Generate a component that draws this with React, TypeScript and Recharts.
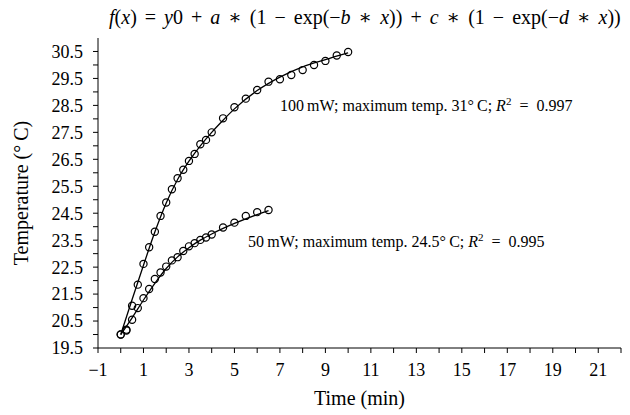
import React from 'react';
import { ComposedChart, Line, XAxis, YAxis, ReferenceDot } from 'recharts';

// Measured points (time in min, temperature in °C)
const TIME_100 = [0, 0.25, 0.5, 0.75, 1, 1.25, 1.5, 1.75, 2, 2.25, 2.5, 2.75, 3, 3.25, 3.5, 3.75, 4, 4.5, 5, 5.5, 6, 6.5, 7, 7.5, 8, 8.5, 9, 9.5, 10];
const TEMP_100 = [20.0, 20.18, 21.07, 21.85, 22.62, 23.24, 23.81, 24.4, 24.9, 25.39, 25.8, 26.11, 26.44, 26.7, 27.06, 27.22, 27.5, 28.02, 28.43, 28.75, 29.07, 29.38, 29.47, 29.63, 29.81, 30.0, 30.15, 30.35, 30.48];

const TIME_50 = [0, 0.25, 0.5, 0.75, 1, 1.25, 1.5, 1.75, 2, 2.25, 2.5, 2.75, 3, 3.25, 3.5, 3.75, 4, 4.5, 5, 5.5, 6, 6.5];
const TEMP_50 = [20.0, 20.15, 20.55, 20.98, 21.35, 21.69, 22.06, 22.3, 22.52, 22.75, 22.87, 23.1, 23.27, 23.39, 23.51, 23.6, 23.71, 23.97, 24.15, 24.4, 24.54, 24.62];

// Fitted curves
const FIT_T_100 = [0, 0.5, 1, 1.5, 2, 2.5, 3, 3.5, 4, 4.5, 5, 6, 7, 8, 9, 10];
const FIT_V_100 = [20.0, 21.3, 22.57, 23.8, 24.88, 25.75, 26.43, 27.0, 27.5, 27.95, 28.37, 29.05, 29.55, 29.93, 30.2, 30.45];
const FIT_T_50 = [0, 0.5, 1, 1.5, 2, 2.5, 3, 3.5, 4, 5, 6, 6.5];
const FIT_V_50 = [20.0, 20.62, 21.28, 21.9, 22.45, 22.88, 23.22, 23.5, 23.73, 24.12, 24.45, 24.6];

const X_TICKS = [-1, 0, 1, 2, 3, 4, 5, 6, 7, 8, 9, 10, 11, 12, 13, 14, 15, 16, 17, 18, 19, 20, 21, 22];
const Y_TICKS = [19.5, 20, 20.5, 21, 21.5, 22, 22.5, 23, 23.5, 24, 24.5, 25, 25.5, 26, 26.5, 27, 27.5, 28, 28.5, 29, 29.5, 30, 30.5];

const zip = (ts: number[], vs: number[]) => ts.map((t, i) => ({ t, v: vs[i] }));
const pts100 = zip(TIME_100, TEMP_100);
const pts50 = zip(TIME_50, TEMP_50);
const fit100 = zip(FIT_T_100, FIT_V_100);
const fit50 = zip(FIT_T_50, FIT_V_50);

const FONT = '"Liberation Serif", "DejaVu Serif", serif';

const xFmt = (v: number) => (Math.abs(v % 2) === 1 ? (v < 0 ? '\u2212' + Math.abs(v) : String(v)) : '');
const yFmt = (v: number) => (Math.abs(v % 1) > 0.01 ? v.toFixed(1) : '');

const makeAnno = (text: string, r2: string) => (props: any) => {
  const vb = props.viewBox || {};
  const x = vb.x ?? 0;
  const y = vb.y ?? 0;
  return (
    <text x={x} y={y} dy="0.35em" fontFamily={FONT} fontSize={16} fill="#000">
      {text}
      <tspan fontStyle="italic">R</tspan>
      <tspan dy={-6} fontSize={11}>2</tspan>
      <tspan dy={6}>{'\u2002=\u20020' + r2.slice(1)}</tspan>
    </text>
  );
};

const dotStyle = { r: 3.6, stroke: '#000', strokeWidth: 1.2, fill: 'none' };

export default function App() {
  return (
    <div style={{ position: 'absolute', left: 0, top: 0, width: 630, height: 415, background: '#fff' }}>
      <div
        style={{
          position: 'absolute',
          left: 109,
          top: 5,
          fontFamily: FONT,
          fontSize: 20,
          lineHeight: '24px',
          wordSpacing: '3px',
          whiteSpace: 'nowrap',
          color: '#000',
        }}
      >
        <i>f</i>(<i>x</i>) = <i>y</i>0 + <i>a</i> ∗ (1 − exp(−<i>b</i> ∗ <i>x</i>)) + <i>c</i> ∗ (1 − exp(−<i>d</i> ∗ <i>x</i>))
      </div>
      <ComposedChart width={630} height={415} margin={{ top: 38, right: 9, bottom: 0, left: 0 }}>
        <XAxis
          dataKey="t"
          type="number"
          domain={[-1, 22]}
          ticks={X_TICKS}
          interval={0}
          tickFormatter={xFmt}
          height={67}
          tickSize={5}
          tickMargin={10}
          stroke="#000"
          tick={{ fill: '#000', fontSize: 18, fontFamily: FONT }}
          allowDataOverflow
          label={{ value: 'Time (min)', position: 'insideBottom', offset: 10, fill: '#000', fontSize: 20, fontFamily: FONT }}
        />
        <XAxis
          xAxisId="top"
          orientation="top"
          type="number"
          domain={[-1, 22]}
          tick={false}
          tickLine={false}
          height={0}
          stroke="#000"
        />
        <YAxis
          type="number"
          domain={[19.5, 31]}
          ticks={Y_TICKS}
          interval={0}
          tickFormatter={yFmt}
          width={98}
          tickSize={5}
          tickMargin={10}
          stroke="#000"
          tick={{ fill: '#000', fontSize: 18, fontFamily: FONT }}
          allowDataOverflow
          label={{
            value: 'Temperature (°\u2009C)',
            angle: -90,
            position: 'insideLeft',
            offset: 21,
            style: { textAnchor: 'middle' },
            fill: '#000',
            fontSize: 20,
            fontFamily: FONT,
          }}
        />
        <YAxis
          yAxisId="right"
          orientation="right"
          type="number"
          domain={[19.5, 31]}
          tick={false}
          tickLine={false}
          width={0}
          stroke="#000"
        />
        <Line data={fit100} dataKey="v" type="monotone" stroke="#000" strokeWidth={1.3} dot={false} isAnimationActive={false} />
        <Line data={fit50} dataKey="v" type="monotone" stroke="#000" strokeWidth={1.3} dot={false} isAnimationActive={false} />
        <Line data={pts100} dataKey="v" stroke="none" dot={dotStyle} activeDot={false} isAnimationActive={false} />
        <Line data={pts50} dataKey="v" stroke="none" dot={dotStyle} activeDot={false} isAnimationActive={false} />
        <ReferenceDot x={7} y={28.5} r={0} fill="none" stroke="none" label={makeAnno('100\u2009mW; maximum temp. 31°\u2009C; ', '0.997')} />
        <ReferenceDot x={5.6} y={23.45} r={0} fill="none" stroke="none" label={makeAnno('50\u2009mW; maximum temp. 24.5°\u2009C; ', '0.995')} />
      </ComposedChart>
    </div>
  );
}
